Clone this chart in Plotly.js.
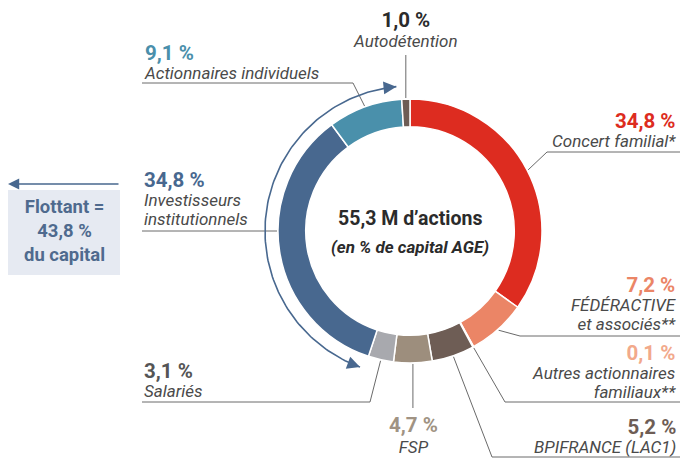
<!DOCTYPE html>
<html>
<head>
<meta charset="utf-8">
<script src="https://cdn.plot.ly/plotly-3.0.1.min.js"></script>
<style>html,body{margin:0;padding:0;background:#fff;}#chart{width:680px;height:459px;}</style>
</head>
<body>
<div id="chart"></div>
<script>
// ---- data ----
const categories = ['Concert familial*','FÉDÉRACTIVE et associés**','Autres actionnaires familiaux**','BPIFRANCE (LAC1)','FSP','Salariés','Investisseurs institutionnels','Actionnaires individuels','Autodétention'];
const shares = [34.8, 7.2, 0.1, 5.2, 4.7, 3.1, 34.8, 9.1, 1.0];
const nameLines = [['Concert familial*'],['FÉDÉRACTIVE','et associés**'],['Autres actionnaires','familiaux**'],['BPIFRANCE (LAC1)'],['FSP'],['Salariés'],['Investisseurs','institutionnels'],['Actionnaires individuels'],['Autodétention']];
const floatIdx = [6, 7];
const floatText = ['Flottant =', '43,8 %', 'du capital'];
const centerTitle = '55,3 M d’actions';
const centerSub = '(en % de capital AGE)';

// ---- styles ----
const sliceColors = ['#dd2c20','#eb8566','#f4b29a','#6e5d55','#9d8e7d','#a8a9ae','#48688f','#4a90ab','#6e5d55'];
const pctColors = ['#dd2c20','#eb8566','#f2a98b','#6e5d55','#a09383','#555555','#48688f','#4a8fab','#2b2b2b'];
const nameColor = '#4a4a4a';
const lineColor = '#6a6a6a';
const arcColor = '#48688f';
const FONT = 'Roboto, "Open Sans", sans-serif';

const W = 680, H = 459;
const cx = 410, cy = 231, R = 132, HOLE = 0.79;

// label layout (pixels): pctY = visual centre of the percentage line, pitch = line pitch
const labelPos = [
  {side:'right', x:678, pctY:121, pitch:19, lineY:152, elbowX:547, endX:680},
  {side:'right', x:678, pctY:285, pitch:19, lineY:336, elbowX:520, endX:680},
  {side:'right', x:678, pctY:353, pitch:19, lineY:402, elbowX:505, endX:680},
  {side:'right', x:678, pctY:427, pitch:19, lineY:457, elbowX:492, endX:680},
  {side:'center', x:413, pctY:426, pitch:20.5, lineY:408, vertical:true},
  {side:'left', x:142, pctY:371, pitch:19, lineY:402, elbowX:370, endX:142},
  {side:'left', x:142, pctY:180, pitch:19, lineY:231, elbowX:null, endX:142},
  {side:'left', x:142, pctY:53, pitch:19, lineY:83, elbowX:353, endX:142},
  {side:'center', x:405, pctY:20, pitch:20, lineY:55, vertical:true}
];

const total = shares.reduce((a,b)=>a+b,0);
const cum = []; let acc = 0;
shares.forEach(v => { cum.push(acc); acc += v; });
function pt(r, frac){ const a = frac*2*Math.PI; return [cx + r*Math.sin(a), cy - r*Math.cos(a)]; }
const fmt = v => v.toFixed(1).replace('.', ',') + ' %';

const traces = [];
traces.push({
  type:'pie', values: shares, labels: categories, sort:false, direction:'clockwise', rotation:0,
  hole: HOLE, textinfo:'none', hoverinfo:'none', showlegend:false,
  marker:{colors: sliceColors, line:{color:'#ffffff', width:1.5}},
  domain:{x:[(cx-R)/W,(cx+R)/W], y:[(H-cy-R)/H,(H-cy+R)/H]}
});

const annotations = [];
const shapes = [];

shares.forEach((v,i) => {
  const L = labelPos[i];
  const mid = (cum[i] + v/2)/total;
  let anchor = pt(R+1, mid);
  let xs, ys;
  if (L.vertical) {
    xs = [anchor[0], anchor[0]]; ys = [L.lineY, anchor[1]];
  } else if (L.elbowX === null) {
    const ax = cx - Math.sqrt((R+1)*(R+1) - (L.lineY-cy)*(L.lineY-cy));
    xs = [L.endX, ax]; ys = [L.lineY, L.lineY];
  } else {
    xs = [L.endX, L.elbowX, anchor[0]]; ys = [L.lineY, L.lineY, anchor[1]];
  }
  traces.push({type:'scatter', mode:'lines', x:xs, y:ys, line:{color:lineColor, width:1}, hoverinfo:'skip', showlegend:false});
  const n = 1 + nameLines[i].length;
  const parts = ['<span style="font-size:20.5px;color:'+pctColors[i]+'"><b>'+fmt(v)+'</b></span>']
    .concat(nameLines[i].map(t => '<span style="font-size:17px"><i>'+t+'</i></span>'));
  annotations.push({xref:'x', yref:'y', x:L.x, y:L.pctY + (n-1)*L.pitch/2 - 1, text:parts.join('<br>'), showarrow:false,
    xanchor:L.side, yanchor:'middle', align:L.side, font:{family:FONT, size:L.pitch/1.3, color:nameColor}});
});

// floating arc
const fStart = cum[floatIdx[0]]/total + 0.005;
const fEnd = (cum[floatIdx[floatIdx.length-1]] + shares[floatIdx[floatIdx.length-1]])/total - 0.005;
const RA = 145;
const ax = [], ay = [];
for (let k=0;k<=120;k++){ const f = fStart + (fEnd-fStart)*k/120; const p = pt(RA, f); ax.push(p[0]); ay.push(p[1]); }
traces.push({type:'scatter', mode:'lines', x:ax, y:ay, line:{color:arcColor, width:1.6}, hoverinfo:'skip', showlegend:false});
function arrowAt(frac, sign){
  const p = pt(RA, frac); const a = frac*2*Math.PI; const Lh = 10;
  annotations.push({xref:'x', yref:'y', x:p[0], y:p[1], text:'', showarrow:true, arrowhead:2, arrowsize:1.6, arrowwidth:1.6, arrowcolor:arcColor,
    axref:'pixel', ayref:'pixel', ax: -sign*Math.cos(a)*Lh, ay: -sign*Math.sin(a)*Lh, standoff:0});
}
arrowAt(fEnd, 1);
arrowAt(fStart, -1);

// flottant box
shapes.push({type:'rect', xref:'x', yref:'y', x0:8, x1:120, y0:190, y1:275, fillcolor:'#e6eaf2', line:{width:0}, layer:'below'});
annotations.push({xref:'x', yref:'y', x:8, y:184, text:'', showarrow:true, arrowhead:2, arrowsize:1.4, arrowwidth:1.6, arrowcolor:arcColor, axref:'pixel', ayref:'pixel', ax:112, ay:0, standoff:0});
annotations.push({xref:'x', yref:'y', x:64, y:231, text:floatText.map(t => '<b>'+t+'</b>').join('<br>'), showarrow:false, xanchor:'center', yanchor:'middle', align:'center', font:{family:FONT, size:24/1.3, color:'#4f6a8e'}});

// center text
annotations.push({xref:'x', yref:'y', x:cx, y:218, text:'<b>'+centerTitle+'</b>', showarrow:false, xanchor:'center', yanchor:'middle', font:{family:FONT, size:19.5, color:'#2b2b2b'}});
annotations.push({xref:'x', yref:'y', x:cx, y:247, text:'<b><i>'+centerSub+'</i></b>', showarrow:false, xanchor:'center', yanchor:'middle', font:{family:FONT, size:17, color:'#2b2b2b'}});

const layout = {
  width:W, height:H, margin:{l:0,r:0,t:0,b:0}, paper_bgcolor:'#ffffff', plot_bgcolor:'rgba(0,0,0,0)',
  xaxis:{range:[0,W], visible:false, fixedrange:true},
  yaxis:{range:[H,0], visible:false, fixedrange:true},
  showlegend:false, annotations, shapes, font:{family:FONT}
};
Plotly.newPlot('chart', traces, layout, {staticPlot:true, displayModeBar:false});
</script>
</body>
</html>
